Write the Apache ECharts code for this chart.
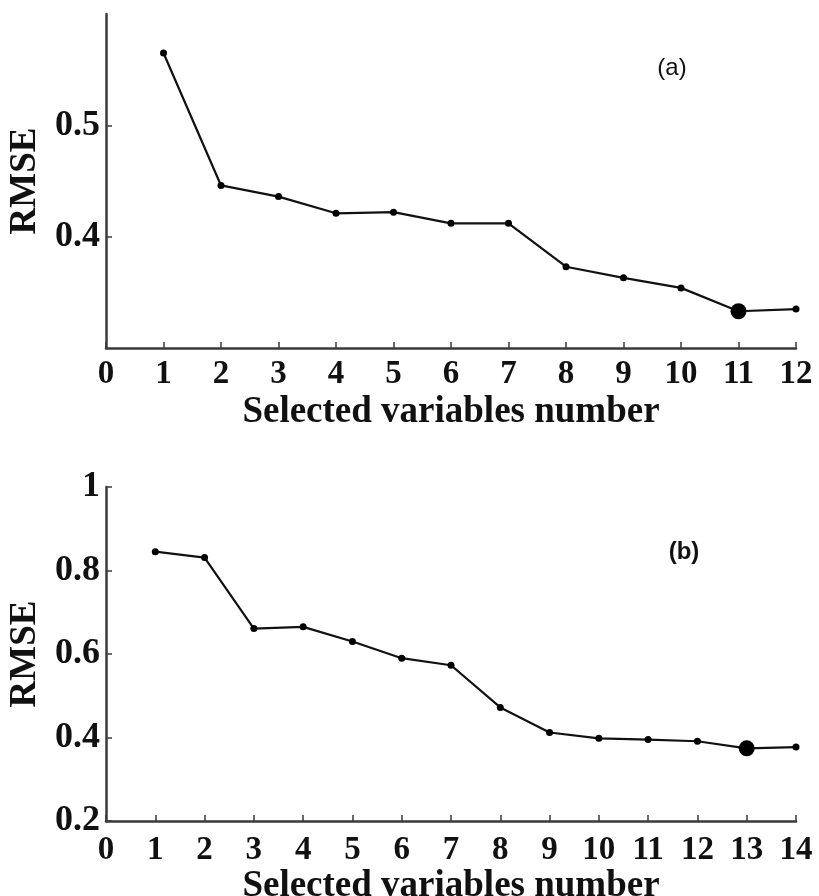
<!DOCTYPE html>
<html>
<head>
<meta charset="utf-8">
<script src="https://cdn.jsdelivr.net/npm/echarts@6/dist/echarts.min.js"></script>
<style>
html,body{margin:0;padding:0;background:#fff;}
#c{width:819px;height:896px;}
</style>
</head>
<body>
<div id="c"></div>
<script>
// Panel (a)
const xA = [1,2,3,4,5,6,7,8,9,10,11,12];
const rmseA = [0.565,0.446,0.436,0.421,0.422,0.412,0.412,0.373,0.363,0.354,0.333,0.335];
const bestA = 11;
const yTicksA = [0.4,0.5];
// Panel (b)
const xB = [1,2,3,4,5,6,7,8,9,10,11,12,13,14];
const rmseB = [0.845,0.831,0.661,0.665,0.630,0.590,0.573,0.472,0.412,0.398,0.395,0.391,0.374,0.377];
const bestB = 13;
const yTicksB = [0.2,0.4,0.6,0.8,1];
const xName = 'Selected variables number';
const yName = 'RMSE';
const panelLabels = ['(a)','(b)'];

const serif = '"Liberation Serif","Times New Roman",serif';
const axisCol = '#3a3a3a';

function mkData(xs, ys, best){
  return xs.map((x,i)=>({value:[x,ys[i]], symbolSize: x===best ? 16 : 7}));
}
function xAxis(gi, max, gap, margin){
  return {
    type:'value', gridIndex:gi, min:0, max:max, interval:1,
    name:xName, nameLocation:'middle', nameGap:gap,
    nameTextStyle:{fontFamily:serif, fontWeight:'bold', fontSize:37, color:'#111'},
    axisLine:{show:true, lineStyle:{color:axisCol, width:2.5}},
    axisTick:{show:true, inside:true, length:6, lineStyle:{color:axisCol, width:1.5}},
    axisLabel:{fontFamily:serif, fontWeight:'bold', fontSize:33, color:'#111', margin:margin},
    splitLine:{show:false}
  };
}
function fmt(v){ return v===1 ? '1' : (Math.round(v*10)/10).toFixed(1); }

const option = {
  animation:false,
  backgroundColor:'#fff',
  grid:[
    {left:106, right:23, top:14, bottom:548, outerBoundsMode:'none', containLabel:false},
    {left:106, right:23, top:487, bottom:75, outerBoundsMode:'none', containLabel:false}
  ],
  xAxis:[ xAxis(0,12,46,10), xAxis(1,14,46,13) ],
  yAxis:[
    {type:'value', gridIndex:0, min:0.3, max:0.6,
     name:yName, nameLocation:'middle', nameGap:62, nameRotate:90,
     nameTextStyle:{fontFamily:serif, fontWeight:'bold', fontSize:37, color:'#111'},
     axisLine:{show:true, lineStyle:{color:axisCol, width:2.5}},
     axisTick:{show:true, inside:true, length:6, customValues:yTicksA, lineStyle:{color:axisCol, width:1.5}},
     axisLabel:{fontFamily:serif, fontWeight:'bold', fontSize:36, color:'#111', margin:6, customValues:yTicksA, formatter:fmt},
     splitLine:{show:false}},
    {type:'value', gridIndex:1, min:0.2, max:1, interval:0.2,
     name:yName, nameLocation:'middle', nameGap:62, nameRotate:90,
     nameTextStyle:{fontFamily:serif, fontWeight:'bold', fontSize:37, color:'#111'},
     axisLine:{show:true, lineStyle:{color:axisCol, width:2.5}},
     axisTick:{show:true, inside:true, length:6, lineStyle:{color:axisCol, width:1.5}},
     axisLabel:{fontFamily:serif, fontWeight:'bold', fontSize:36, color:'#111', margin:6, formatter:fmt},
     splitLine:{show:false}}
  ],
  series:[
    {type:'line', xAxisIndex:0, yAxisIndex:0, data:mkData(xA,rmseA,bestA),
     symbol:'circle', itemStyle:{color:'#000'}, lineStyle:{color:'#111', width:2.2}},
    {type:'line', xAxisIndex:1, yAxisIndex:1, data:mkData(xB,rmseB,bestB),
     symbol:'circle', itemStyle:{color:'#000'}, lineStyle:{color:'#111', width:2.2}}
  ],
  graphic:[
    {type:'text', x:672, y:68, style:{text:panelLabels[0], font:'normal 24px "Liberation Sans", Arial, sans-serif', fill:'#111', align:'center', verticalAlign:'middle'}},
    {type:'text', x:684, y:552, style:{text:panelLabels[1], font:'bold 24px "Liberation Sans", Arial, sans-serif', fill:'#111', align:'center', verticalAlign:'middle'}}
  ]
};
const chart = echarts.init(document.getElementById('c'), null, {renderer:'canvas'});
chart.setOption(option);
</script>
</body>
</html>
